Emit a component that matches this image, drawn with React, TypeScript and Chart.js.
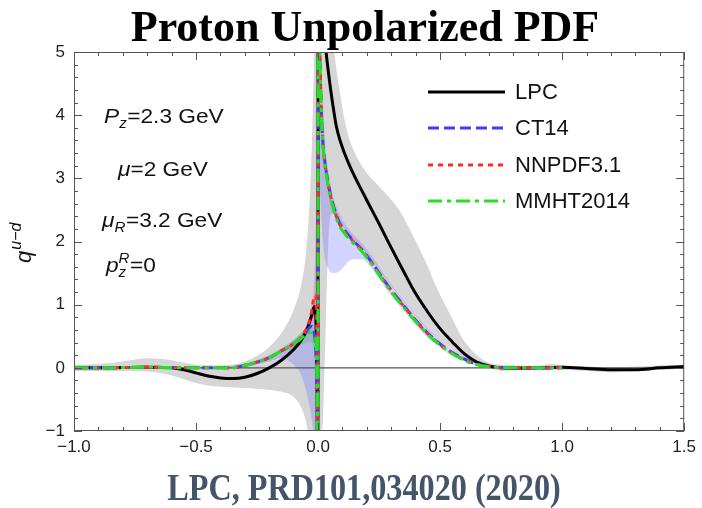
import { useEffect, useRef } from 'react';
import { Chart, registerables } from 'chart.js';

Chart.register(...registerables);

// ---------- tick labels ----------
const xTickValues = [-1, -0.5, 0, 0.5, 1, 1.5];
const xTickLabels = ['\u22121.0', '\u22120.5', '0.0', '0.5', '1.0', '1.5'];
const yTickValues = [-1, 0, 1, 2, 3, 4, 5];
const yTickLabels = ['\u22121', '0', '1', '2', '3', '4', '5'];

// ---------- LPC (black) ----------
const lpcX = [-1, -0.9, -0.8, -0.7, -0.6, -0.55, -0.5, -0.45, -0.4, -0.35, -0.3, -0.25, -0.2, -0.15, -0.1, -0.07, -0.05, -0.035, -0.025, -0.018, -0.013, -0.008, -0.004, -0.001,
  0.001, 0.01, 0.02, 0.033, 0.05, 0.065, 0.075, 0.09, 0.11, 0.135, 0.2, 0.25, 0.3, 0.35, 0.393, 0.45, 0.5, 0.55, 0.6, 0.65, 0.7, 0.75, 0.8, 0.9, 1.0, 1.1, 1.2, 1.3, 1.4, 1.5];
const lpcY = [0, 0, 0.005, 0.01, 0, -0.03, -0.08, -0.13, -0.16, -0.17, -0.15, -0.09, 0, 0.12, 0.29, 0.43, 0.57, 0.72, 0.85, 0.95, 0.97, 0.6, -0.5, -2.5,
  9, 6.5, 5.6, 5.0, 4.45, 4.05, 3.82, 3.6, 3.38, 3.15, 2.65, 2.28, 1.9, 1.53, 1.22, 0.88, 0.62, 0.41, 0.22, 0.09, 0.03, 0.0, -0.005, 0.0, 0.01, -0.01, -0.03, -0.03, 0.0, 0.02];

// ---------- global fits (shared x grid) ----------
const pdfX = [-1, -0.9, -0.8, -0.7, -0.6, -0.5, -0.4, -0.35, -0.3, -0.25, -0.2, -0.15, -0.1, -0.07, -0.05, -0.035, -0.025, -0.017, -0.01, -0.005, -0.001,
  0.001, 0.005, 0.01, 0.015, 0.02, 0.03, 0.045, 0.06, 0.085, 0.11, 0.14, 0.18, 0.22, 0.27, 0.3, 0.35, 0.41, 0.46, 0.52, 0.56, 0.61, 0.66, 0.72, 0.8, 0.9, 1.0];
const ct14Y = [0, 0, 0.005, 0.01, 0.005, 0, 0, 0, 0.04, 0.09, 0.16, 0.27, 0.38, 0.47, 0.56, 0.64, 0.66, 0.58, 0.3, -0.3, -2,
  7, 5.4, 4.5, 3.9, 3.55, 3.2, 2.85, 2.6, 2.32, 2.17, 2.03, 1.87, 1.67, 1.39, 1.23, 0.99, 0.71, 0.51, 0.32, 0.22, 0.12, 0.05, 0.01, 0, -0.005, 0];
const nnpdfY = [0, 0, 0.005, 0.01, 0.005, 0, 0, 0, 0.04, 0.09, 0.16, 0.27, 0.38, 0.48, 0.6, 0.75, 0.92, 1.12, 1.15, 0.3, -2.5,
  7, 5.5, 4.55, 3.9, 3.55, 3.18, 2.83, 2.58, 2.3, 2.15, 2.02, 1.86, 1.66, 1.38, 1.22, 0.98, 0.7, 0.5, 0.31, 0.21, 0.11, 0.05, 0.01, 0, 0, 0];
const mmhtY = [0, 0, 0.005, 0.01, 0.005, 0, 0, 0, 0.04, 0.09, 0.16, 0.27, 0.38, 0.46, 0.53, 0.56, 0.54, 0.48, 0.45, -0.2, -2.5,
  7, 5.4, 4.5, 3.9, 3.52, 3.15, 2.8, 2.55, 2.27, 2.12, 1.99, 1.84, 1.64, 1.36, 1.2, 0.96, 0.69, 0.49, 0.3, 0.2, 0.1, 0.04, 0.01, 0, 0, 0];

// ---------- LPC error band ----------
const lpcBandLX = [-1, -0.9, -0.8, -0.7, -0.6, -0.55, -0.5, -0.45, -0.4, -0.35, -0.3, -0.25, -0.2, -0.15, -0.1, -0.07, -0.05, -0.035, -0.025, -0.018, -0.013, -0.008, -0.004, -0.001];
const lpcBandLUp = [0.05, 0.06, 0.1, 0.15, 0.12, 0.08, 0.05, 0.04, 0.04, 0.05, 0.1, 0.19, 0.33, 0.55, 0.92, 1.3, 1.8, 2.6, 3.6, 4.6, 5.5, 7, 8, 9];
const lpcBandLLo = [-0.05, -0.05, -0.05, -0.06, -0.12, -0.18, -0.24, -0.28, -0.3, -0.31, -0.32, -0.33, -0.35, -0.38, -0.46, -0.62, -0.85, -1.2, -1.6, -2.2, -3, -4, -5, -6];
const lpcBandRX = [0.001, 0.005, 0.01, 0.02, 0.03, 0.04, 0.05, 0.066, 0.09, 0.107, 0.13, 0.16, 0.2, 0.25, 0.3, 0.34, 0.38, 0.42, 0.45, 0.48, 0.52, 0.55, 0.586, 0.62, 0.65, 0.7, 0.75, 0.8, 0.9, 0.95, 1.0, 1.1, 1.2, 1.3, 1.4, 1.5];
const lpcBandRUp = [9, 8.5, 8, 7, 6.3, 5.9, 5.6, 5.0, 4.35, 3.95, 3.6, 3.33, 3.08, 2.87, 2.66, 2.45, 2.16, 1.85, 1.6, 1.32, 1.0, 0.78, 0.5, 0.32, 0.2, 0.08, 0.05, 0.04, 0.03, 0.06, 0.04, 0.02, 0.01, 0.02, 0.04, 0.05];
const lpcBandRLo = [-6, -2, -1.2, -0.8, 0.5, 1.8, 2.4, 2.45, 2.3, 2.2, 2.1, 1.98, 1.8, 1.55, 1.3, 1.1, 0.92, 0.72, 0.6, 0.5, 0.38, 0.3, 0.2, 0.12, 0.06, 0.0, -0.05, -0.04, -0.03, -0.03, -0.03, -0.05, -0.07, -0.05, -0.03, -0.01];

// ---------- CT14 band ----------
const ct14BandLX = [-0.4, -0.3, -0.2, -0.15, -0.1, -0.07, -0.05, -0.035, -0.025, -0.017, -0.01, -0.005, -0.001];
const ct14BandLUp = [0.02, 0.07, 0.2, 0.31, 0.44, 0.54, 0.64, 0.74, 0.82, 1.0, 1.6, 3, 8];
const ct14BandLLo = [-0.02, 0.01, 0.1, 0.15, 0.05, -0.1, -0.35, -0.6, -0.85, -1.2, -2, -4, -8];
const ct14BandRX = [0.001, 0.005, 0.01, 0.02, 0.03, 0.045, 0.06, 0.085, 0.11, 0.14, 0.18, 0.22, 0.27, 0.3, 0.35, 0.41, 0.46, 0.52, 0.56, 0.61, 0.66, 0.72, 0.8, 0.9, 1.0];
const ct14BandRUp = [8, 6, 5, 4.2, 3.5, 3.05, 2.75, 2.45, 2.28, 2.13, 1.97, 1.77, 1.48, 1.32, 1.07, 0.79, 0.58, 0.38, 0.27, 0.16, 0.08, 0.03, 0.02, 0.02, 0.02];
const ct14BandRLo = [5, 3.3, 2.7, 2.0, 1.7, 1.55, 1.5, 1.52, 1.62, 1.72, 1.72, 1.57, 1.3, 1.14, 0.91, 0.63, 0.44, 0.26, 0.17, 0.08, 0.02, -0.01, -0.02, -0.02, -0.02];

// ---------- NNPDF3.1 band ----------
const nnpdfBandX = [-0.07, -0.05, -0.035, -0.025, -0.017, -0.01, -0.005, -0.002];
const nnpdfBandUp = [0.52, 0.66, 0.84, 1.05, 1.3, 2.2, 3.8, 6];
const nnpdfBandLo = [0.42, 0.52, 0.62, 0.72, 0.8, 0.6, -0.5, -3];

// ---------- MMHT2014 band ----------
const mmhtBandX = [-0.12, -0.1, -0.07, -0.05, -0.035, -0.025, -0.017, -0.01];
const mmhtBandUp = [0.38, 0.45, 0.55, 0.64, 0.68, 0.66, 0.6, 0.5];
const mmhtBandLo = [0.25, 0.3, 0.36, 0.4, 0.42, 0.4, 0.3, 0.1];

const zeroX = [-1, 1.5];
const zeroY = [0, 0];

const SANS = '"Liberation Sans", Arial, sans-serif';

const pts = (xs: number[], ys: number[]) => xs.map((x, i) => ({ x, y: ys[i] }));

function lineDs(label: string, xs: number[], ys: number[], color: string, dash: number[], order: number, inLegend = true) {
  return {
    label,
    data: pts(xs, ys),
    borderColor: color,
    backgroundColor: color,
    borderWidth: 3,
    borderDash: dash,
    pointRadius: 0,
    fill: false,
    order,
    cubicInterpolationMode: 'monotone',
    inLegend,
  };
}

function bandDs(label: string, xs: number[], up: number[], lo: number[], color: string, order: number) {
  return [
    {
      label: label + ' upper',
      data: pts(xs, up),
      borderWidth: 0,
      borderColor: 'rgba(0,0,0,0)',
      backgroundColor: color,
      pointRadius: 0,
      fill: '+1',
      order,
      cubicInterpolationMode: 'monotone',
      inLegend: false,
    },
    {
      label: label + ' lower',
      data: pts(xs, lo),
      borderWidth: 0,
      borderColor: 'rgba(0,0,0,0)',
      pointRadius: 0,
      fill: false,
      order,
      cubicInterpolationMode: 'monotone',
      inLegend: false,
    },
  ];
}

type Run = { t: string; size: number; italic?: boolean; dy?: number; sup?: string; sub?: string };

function drawRuns(ctx: CanvasRenderingContext2D, x: number, y: number, runs: Run[], sx: number) {
  ctx.save();
  ctx.translate(x, y);
  ctx.scale(sx, 1);
  ctx.fillStyle = '#111';
  ctx.textBaseline = 'alphabetic';
  ctx.textAlign = 'left';
  let cx = 0;
  for (const r of runs) {
    if (r.sub !== undefined || r.sup !== undefined) {
      let w = 0;
      ctx.font = `italic ${r.size}px ${SANS}`;
      if (r.sub) { ctx.fillText(r.sub, cx, 5); w = Math.max(w, ctx.measureText(r.sub).width); }
      if (r.sup) { ctx.fillText(r.sup, cx, -9); w = Math.max(w, ctx.measureText(r.sup).width); }
      cx += w + 0.5;
      continue;
    }
    ctx.font = `${r.italic ? 'italic ' : ''}${r.size}px ${SANS}`;
    ctx.fillText(r.t, cx, r.dy || 0);
    cx += ctx.measureText(r.t).width;
  }
  ctx.restore();
}

const frameTicks = {
  id: 'frameTicks',
  afterDatasetsDraw(chart: any) {
    const { ctx, chartArea: a, scales } = chart;
    const xs = scales.x;
    const ys = scales.y;
    ctx.save();
    ctx.strokeStyle = '#555';
    ctx.lineWidth = 1;
    ctx.strokeRect(a.left + 0.5, a.top + 0.5, a.right - a.left - 1, a.bottom - a.top - 1);
    ctx.beginPath();
    for (let i = 0; i <= 25; i++) {
      const v = -1 + i * 0.1;
      const len = i % 5 === 0 ? 8 : 4;
      const px = Math.round(xs.getPixelForValue(v)) + 0.5;
      ctx.moveTo(px, a.bottom);
      ctx.lineTo(px, a.bottom - len);
      ctx.moveTo(px, a.top);
      ctx.lineTo(px, a.top + len);
    }
    for (let i = 0; i <= 30; i++) {
      const v = -1 + i * 0.2;
      const len = i % 5 === 0 ? 8 : 4;
      const py = Math.round(ys.getPixelForValue(v)) + 0.5;
      ctx.moveTo(a.left, py);
      ctx.lineTo(a.left + len, py);
      ctx.moveTo(a.right, py);
      ctx.lineTo(a.right - len, py);
    }
    ctx.stroke();
    ctx.restore();
  },
  afterDraw(chart: any) {
    const { ctx } = chart;
    // annotations
    drawRuns(ctx, 104, 123, [{ t: 'P', size: 21, italic: true }, { t: '', size: 14, sub: 'z' }, { t: '=2.3 GeV', size: 21 }], 1.08);
    drawRuns(ctx, 118, 176, [{ t: '\u03bc', size: 21, italic: true }, { t: '=2 GeV', size: 21 }], 1.08);
    drawRuns(ctx, 102, 227, [{ t: '\u03bc', size: 21, italic: true }, { t: '', size: 14, sub: 'R' }, { t: '=3.2 GeV', size: 21 }], 1.08);
    drawRuns(ctx, 106, 272, [{ t: 'p', size: 21, italic: true }, { t: '', size: 14, sub: 'z', sup: 'R' }, { t: '=0', size: 21 }], 1.08);

    // legend
    const rows = chart.data.datasets.filter((d: any) => d.inLegend);
    const lineY = [92, 128, 165, 201];
    rows.forEach((d: any, i: number) => {
      const y = lineY[i];
      ctx.save();
      ctx.strokeStyle = d.borderColor;
      ctx.lineWidth = 3;
      ctx.setLineDash(d.borderDash || []);
      ctx.beginPath();
      ctx.moveTo(428, y);
      ctx.lineTo(505, y);
      ctx.stroke();
      ctx.setLineDash([]);
      ctx.fillStyle = '#111';
      ctx.font = `22px ${SANS}`;
      ctx.textBaseline = 'middle';
      ctx.textAlign = 'left';
      ctx.fillText(d.label, 515, y + 1);
      ctx.restore();
    });

    // y-axis title q^{u-d}
    ctx.save();
    ctx.translate(31, 263);
    ctx.rotate(-Math.PI / 2);
    ctx.fillStyle = '#111';
    ctx.textBaseline = 'alphabetic';
    ctx.font = `italic 22px ${SANS}`;
    ctx.fillText('q', 0, 0);
    const qw = ctx.measureText('q').width;
    ctx.font = `italic 16px ${SANS}`;
    ctx.fillText('u\u2212d', qw + 1, -10);
    ctx.restore();
  },
};

export default function App() {
  const ref = useRef<HTMLCanvasElement>(null);

  useEffect(() => {
    const canvas = ref.current;
    if (!canvas) return;
    const datasets: any[] = [
      lineDs('MMHT2014', pdfX, mmhtY, '#22e022', [14, 5, 4, 5], 0),
      lineDs('NNPDF3.1', pdfX, nnpdfY, '#ff2a2a', [5, 5], 1),
      lineDs('CT14', pdfX, ct14Y, '#3c3cff', [11, 5], 2),
      lineDs('LPC', lpcX, lpcY, '#000000', [], 3),
      { ...lineDs('zero', zeroX, zeroY, '#555555', [], 5, false), borderWidth: 1.2 },
      ...bandDs('MMHT band', mmhtBandX, mmhtBandUp, mmhtBandLo, 'rgba(60,200,90,0.3)', 7),
      ...bandDs('NNPDF band', nnpdfBandX, nnpdfBandUp, nnpdfBandLo, 'rgba(230,80,160,0.3)', 8),
      ...bandDs('CT14 band L', ct14BandLX, ct14BandLUp, ct14BandLLo, 'rgba(110,110,255,0.3)', 9),
      ...bandDs('CT14 band R', ct14BandRX, ct14BandRUp, ct14BandRLo, 'rgba(110,110,255,0.3)', 9),
      ...bandDs('LPC band L', lpcBandLX, lpcBandLUp, lpcBandLLo, 'rgb(214,214,214)', 10),
      ...bandDs('LPC band R', lpcBandRX, lpcBandRUp, lpcBandRLo, 'rgb(214,214,214)', 10),
    ];
    // legend rows: LPC, CT14, NNPDF3.1, MMHT2014
    const legendOrder = ['LPC', 'CT14', 'NNPDF3.1', 'MMHT2014'];
    const ordered = [
      ...legendOrder.map((n) => datasets.find((d) => d.label === n)),
      ...datasets.filter((d) => !legendOrder.includes(d.label)),
    ];
    const chart = new Chart(canvas, {
      type: 'line',
      data: { datasets: ordered },
      options: {
        animation: false,
        responsive: false,
        devicePixelRatio: 1,
        layout: { padding: { left: 0, right: 17, top: 52, bottom: 37 } },
        plugins: { legend: { display: false }, tooltip: { enabled: false }, title: { display: false } },
        elements: { line: { borderCapStyle: 'butt' } },
        scales: {
          x: {
            type: 'linear',
            min: -1,
            max: 1.5,
            grid: { display: false, drawTicks: false },
            border: { display: false },
            afterBuildTicks: (s: any) => { s.ticks = xTickValues.map((v) => ({ value: v })); },
            afterFit: (s: any) => { s.height = 40; },
            ticks: {
              padding: 6,
              color: '#222',
              font: { family: SANS, size: 17 },
              maxRotation: 0,
              callback: (_v: any, i: number) => xTickLabels[i],
            },
          },
          y: {
            type: 'linear',
            min: -1,
            max: 5,
            grid: { display: false, drawTicks: false },
            border: { display: false },
            afterBuildTicks: (s: any) => { s.ticks = yTickValues.map((v) => ({ value: v })); },
            afterFit: (s: any) => { s.width = 74; },
            ticks: {
              padding: 9,
              color: '#222',
              font: { family: SANS, size: 17 },
              callback: (_v: any, i: number) => yTickLabels[i],
            },
          },
        },
      } as any,
      plugins: [frameTicks],
    });
    return () => chart.destroy();
  }, []);

  return (
    <div style={{ position: 'fixed', left: 0, top: 0, width: 702, height: 508, background: '#fff', overflow: 'hidden' }}>
      <canvas ref={ref} width={702} height={508} style={{ position: 'absolute', left: 0, top: 0, width: 702, height: 508 }} />
      <div
        style={{
          position: 'absolute', left: 0, top: 5, width: 730, textAlign: 'center',
          font: 'bold 44px "Liberation Serif", "Times New Roman", serif', lineHeight: '44px', color: '#000', whiteSpace: 'nowrap',
        }}
      >
        Proton Unpolarized PDF
      </div>
      <div
        style={{
          position: 'absolute', left: 0, top: 469, width: 728, textAlign: 'center',
          font: 'bold 37px "Liberation Serif", "Times New Roman", serif', lineHeight: '37px', color: '#44546a', whiteSpace: 'nowrap',
          transform: 'scaleX(0.87)', transformOrigin: '364px 0',
        }}
      >
        LPC, PRD101,034020 (2020)
      </div>
    </div>
  );
}
